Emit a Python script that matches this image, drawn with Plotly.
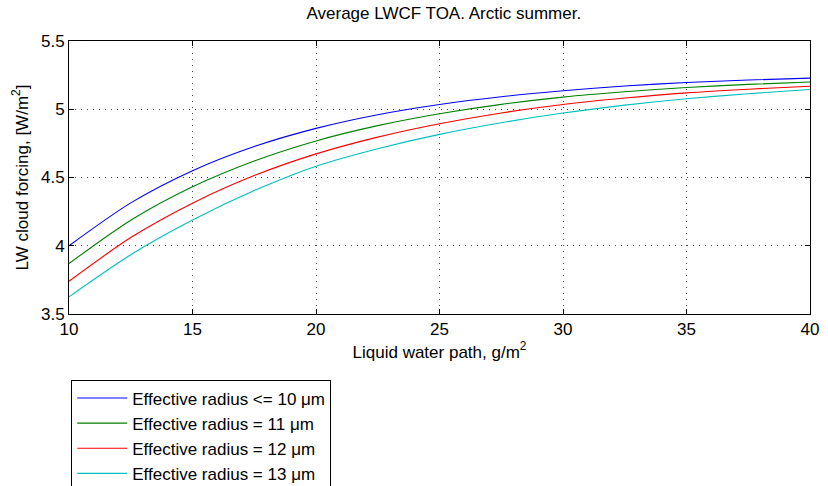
import plotly.graph_objects as go

# Liquid water path, g/m^2
lwp = [10, 12.5, 15, 17.5, 20, 22.5, 25, 27.5, 30, 32.5, 35, 37.5, 40]

# LW cloud forcing [W/m^2]
re_10 = [4.000, 4.314, 4.550, 4.727, 4.860, 4.960, 5.035, 5.092, 5.135, 5.170, 5.196, 5.214, 5.228]
re_11 = [3.870, 4.187, 4.432, 4.621, 4.768, 4.880, 4.967, 5.036, 5.089, 5.128, 5.159, 5.182, 5.200]
re_12 = [3.740, 4.060, 4.312, 4.514, 4.673, 4.796, 4.894, 4.973, 5.035, 5.082, 5.120, 5.147, 5.169]
re_13 = [3.626, 3.934, 4.188, 4.404, 4.583, 4.711, 4.816, 4.901, 4.972, 5.030, 5.077, 5.114, 5.145]

series_names = [
    "Effective radius <= 10 \u03bcm",
    "Effective radius = 11 \u03bcm",
    "Effective radius = 12 \u03bcm",
    "Effective radius = 13 \u03bcm",
]
series_values = [re_10, re_11, re_12, re_13]
colors = ["#0000ff", "#008000", "#ff0000", "#00bfbf"]

x_ticks = [10, 15, 20, 25, 30, 35, 40]
y_ticks = [3.5, 4, 4.5, 5, 5.5]

FONT = "Liberation Sans, Arial, Helvetica, sans-serif"
FS = 17

fig = go.Figure()
for name, vals, col in zip(series_names, series_values, colors):
    fig.add_trace(go.Scatter(
        x=lwp, y=vals, mode="lines", name=name,
        line=dict(color=col, width=1.1, shape="spline", smoothing=0.8),
    ))

axis_common = dict(
    showline=True, linecolor="black", linewidth=1, mirror="allticks",
    ticks="inside", ticklen=5, tickcolor="black", tickwidth=1,
    showgrid=True, gridcolor="#444444", gridwidth=1, griddash="1px,5px",
    zeroline=False, tickfont=dict(size=FS, color="black", family=FONT),
)

fig.update_xaxes(
    range=[10, 40], tickvals=x_ticks, ticktext=[str(v) for v in x_ticks],
    title=dict(text="Liquid water path, g/m<sup>2</sup>", font=dict(size=FS, color="black", family=FONT), standoff=6),
    **axis_common,
)
fig.update_yaxes(
    range=[3.5, 5.5], tickvals=y_ticks, ticktext=["3.5", "4", "4.5", "5", "5.5"],
    title=dict(text="LW cloud forcing, [W/m<sup>2</sup>]", font=dict(size=FS, color="black", family=FONT), standoff=8),
    **axis_common,
)

fig.update_layout(
    width=828, height=486,
    margin=dict(l=69, r=18, t=41, b=172, pad=0, autoexpand=False),
    paper_bgcolor="white", plot_bgcolor="white",
    font=dict(family=FONT, size=FS, color="black"),
    title=dict(text="Average LWCF TOA. Arctic summer.", x=0.536, xanchor="center",
               y=0.974, yanchor="middle", font=dict(size=FS, color="black", family=FONT)),
    showlegend=True,
    legend=dict(
        x=0.003, xanchor="left", y=-0.24, yanchor="top",
        bgcolor="white", bordercolor="black", borderwidth=1,
        font=dict(size=FS, color="black", family=FONT),
        itemwidth=50, tracegroupgap=0,
    ),
)

fig.write_html("out.html")
